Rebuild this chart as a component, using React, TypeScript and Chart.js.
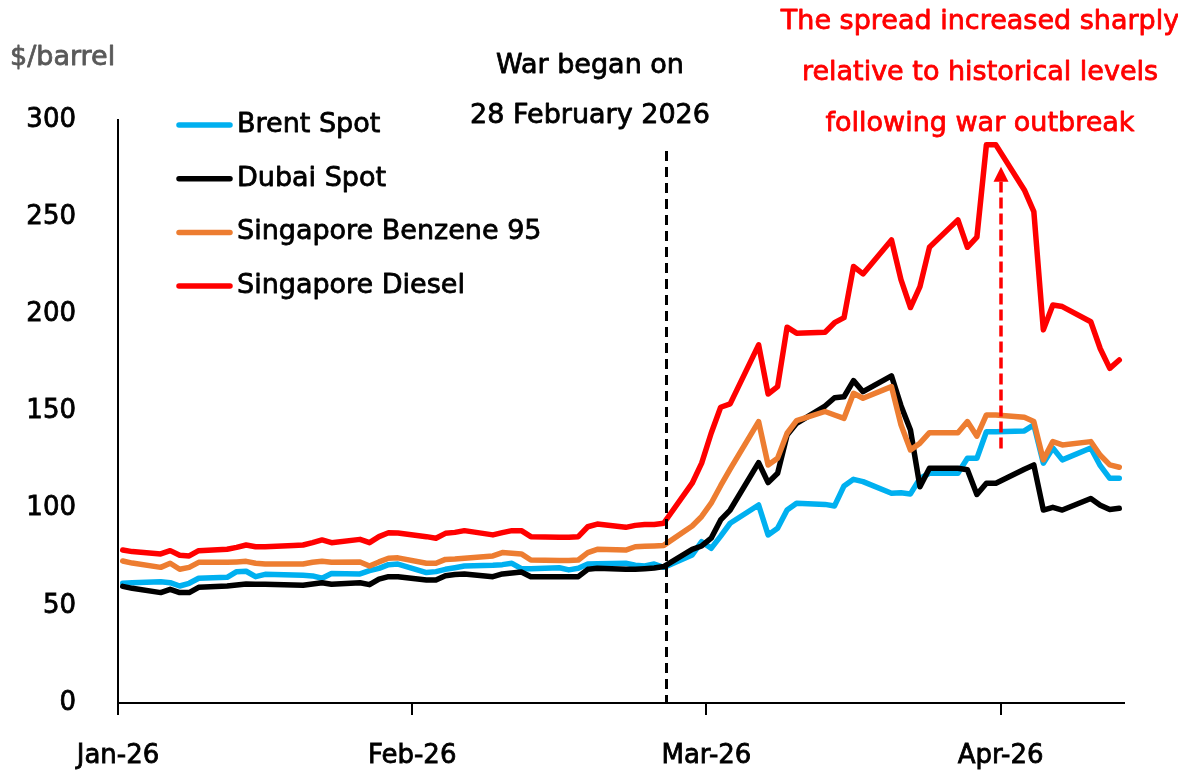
import React, { useEffect, useRef } from "react";
import { Chart, registerables } from "chart.js";

Chart.register(...registerables);

// Trading days, counted in days since 1 January 2026 (weekdays only)
const tradingDays = [
  0, 1, 4, 5, 6, 7, 8, 11, 12, 13, 14, 15, 18, 19, 20, 21, 22, 25, 26, 27, 28, 29,
  32, 33, 34, 35, 36, 39, 40, 41, 42, 43, 46, 47, 48, 49, 50, 53, 54, 55, 56, 57,
  60, 61, 62, 63, 64, 67, 68, 69, 70, 71, 74, 75, 76, 77, 78, 81, 82, 83, 84, 85,
  88, 89, 90, 91, 92, 95, 96, 97, 98, 99, 102, 103, 104, 105,
];

const brentSpot = [
  61.6, 61.9, 62.4, 61.9, 60.2, 61.6, 64.2, 64.7, 67.6, 67.8, 65.0, 66.2, 65.9, 65.7, 65.4, 64.2, 66.6, 66.4, 68.1, 69.3, 71.2, 71.5,
  67.1, 67.6, 68.8, 69.6, 70.5, 70.9, 71.2, 71.9, 69.1, 69.1, 69.6, 68.5, 69.3, 71.5, 71.7, 71.9, 70.9, 70.5, 71.5, 69.8,
  76.2, 83.0, 79.6, 85.9, 92.5, 101.9, 86.5, 89.9, 99.3, 102.8, 102.2, 101.4, 111.7, 115.1, 113.9, 107.9, 108.2, 107.6, 115.6, 118.2,
  118.2, 125.9, 125.9, 139.6, 139.6, 140.0, 143.1, 123.4, 131.2, 125.1, 131.2, 122.1, 115.6, 115.6,
];

const dubaiSpot = [
  60.0, 59.0, 56.8, 58.5, 56.8, 56.8, 59.5, 60.2, 60.7, 61.2, 61.1, 61.1, 60.7, 60.6, 61.2, 61.9, 61.1, 61.9, 60.9, 63.7, 65.0, 65.0,
  63.3, 63.3, 65.5, 66.1, 66.4, 65.0, 66.4, 66.9, 67.4, 65.0, 65.0, 65.0, 65.0, 68.8, 69.3, 68.8, 68.8, 69.1, 69.5, 70.2,
  79.1, 80.8, 84.8, 94.2, 99.3, 123.7, 113.4, 118.2, 137.9, 143.9, 152.8, 157.1, 157.6, 165.9, 160.2, 168.3, 153.0, 140.5, 111.3, 120.8,
  120.8, 120.0, 107.3, 113.1, 113.1, 120.3, 122.5, 99.3, 100.7, 99.3, 105.2, 101.8, 99.6, 100.2,
];

const sgBenzene95 = [
  73.1, 72.0, 69.8, 71.9, 68.8, 69.8, 72.4, 72.4, 72.6, 72.9, 71.9, 71.5, 71.5, 71.5, 72.4, 72.9, 72.4, 72.6, 70.5, 72.6, 74.5, 74.7,
  71.9, 71.9, 73.9, 74.1, 74.5, 75.7, 77.4, 77.0, 76.7, 73.6, 73.3, 73.3, 73.6, 77.4, 79.1, 78.7, 80.4, 80.6, 80.8, 81.1,
  91.1, 96.0, 102.8, 111.8, 120.3, 144.8, 122.5, 126.0, 138.8, 145.3, 150.0, 148.2, 146.5, 159.4, 156.8, 162.8, 143.2, 130.2, 133.7, 139.1,
  139.1, 144.8, 137.3, 148.2, 148.2, 147.0, 144.8, 125.1, 134.5, 132.8, 134.5, 127.5, 122.5, 121.3,
];

const sgDiesel = [
  78.7, 77.9, 76.7, 78.4, 76.0, 75.7, 78.4, 79.1, 80.1, 81.3, 80.4, 80.4, 81.0, 81.3, 82.5, 83.9, 82.5, 84.2, 82.5, 85.6, 87.6, 87.5,
  85.6, 84.8, 87.3, 87.8, 88.7, 86.5, 87.7, 88.7, 88.7, 85.6, 85.3, 85.3, 85.6, 90.7, 92.1, 90.4, 91.4, 91.8, 91.9, 92.5,
  113.1, 123.4, 138.8, 152.2, 153.9, 184.3, 159.0, 162.8, 193.4, 190.3, 190.8, 195.7, 198.3, 224.6, 220.8, 238.3, 217.9, 203.5, 214.3, 234.5,
  248.6, 234.5, 239.7, 287.2, 287.2, 264.0, 252.9, 192.0, 204.8, 204.0, 196.2, 182.3, 172.2, 176.5,
];

const seriesNames = ["Brent Spot", "Dubai Spot", "Singapore Benzene 95", "Singapore Diesel"];
const seriesColors = ["#00B0F0", "#000000", "#ED7D31", "#FF0000"];
const seriesValues = [brentSpot, dubaiSpot, sgBenzene95, sgDiesel];

// x axis: month boundaries (category ticks every 31 days) and their labels
const monthTickDays = [-0.5, 30.5, 61.5, 92.5];
const monthTickLabels = ["Jan-26", "Feb-26", "Mar-26", "Apr-26"];
const xMin = -0.5;
const xMax = 105.5;

const yMin = 0;
const yMax = 300;
const yStep = 50;

const yAxisTitle = "$/barrel";
const warTextLines = ["War began on", "28 February 2026"];
const noteLines = [
  "The spread increased sharply",
  "relative to historical levels",
  "following war outbreak",
];

// annotation anchors, in data units
const warDay = 57.2;
const warLineTopValue = 284;
const arrowDay = 92.5;
const arrowFromValue = 131;
const arrowToValue = 276;

const FONT = '"DejaVu Sans", "Noto Sans", sans-serif';

function strokedText(ctx: CanvasRenderingContext2D, text: string, x: number, y: number, color: string) {
  ctx.fillStyle = color;
  ctx.strokeStyle = color;
  ctx.lineWidth = 0.8;
  ctx.lineJoin = "round";
  ctx.fillText(text, x, y);
  ctx.strokeText(text, x, y);
}

const overlayPlugin = {
  id: "overlay",
  afterDatasetsDraw(chart: any) {
    const { ctx, chartArea } = chart;
    const xs = chart.scales.x;
    const ys = chart.scales.y;
    ctx.save();

    // War start dashed line
    const wx = Math.round(xs.getPixelForValue(warDay)) + 0.5;
    ctx.beginPath();
    ctx.setLineDash([10, 6]);
    ctx.strokeStyle = "#000";
    ctx.lineWidth = 3;
    ctx.moveTo(wx, ys.getPixelForValue(warLineTopValue));
    ctx.lineTo(wx, chartArea.bottom);
    ctx.stroke();

    // Red dashed arrow
    const ax = Math.round(xs.getPixelForValue(arrowDay));
    const ayFrom = ys.getPixelForValue(arrowFromValue);
    const ayTo = ys.getPixelForValue(arrowToValue);
    const headH = 15;
    ctx.beginPath();
    ctx.setLineDash([11, 5]);
    ctx.strokeStyle = "#FF0000";
    ctx.lineWidth = 3.5;
    ctx.moveTo(ax, ayFrom);
    ctx.lineTo(ax, ayTo + headH);
    ctx.stroke();
    ctx.setLineDash([]);
    ctx.beginPath();
    ctx.fillStyle = "#FF0000";
    ctx.moveTo(ax, ayTo);
    ctx.lineTo(ax - 7.5, ayTo + headH);
    ctx.lineTo(ax + 7.5, ayTo + headH);
    ctx.closePath();
    ctx.fill();

    // Texts
    ctx.textBaseline = "alphabetic";
    ctx.font = `27px ${FONT}`;
    ctx.textAlign = "left";
    strokedText(ctx, yAxisTitle, 10, 65, "#595959");

    ctx.textAlign = "center";
    strokedText(ctx, warTextLines[0], 590, 73, "#000");
    strokedText(ctx, warTextLines[1], 590, 123, "#000");

    const noteBase = [29, 80, 131];
    noteLines.forEach((t, i) => strokedText(ctx, t, 980, noteBase[i], "#FF0000"));

    // Legend
    ctx.textAlign = "left";
    seriesNames.forEach((name, i) => {
      const y = 125 + i * 53.7;
      ctx.beginPath();
      ctx.lineCap = "round";
      ctx.strokeStyle = seriesColors[i];
      ctx.lineWidth = 5.5;
      ctx.moveTo(179, y);
      ctx.lineTo(230, y);
      ctx.stroke();
      strokedText(ctx, name, 237, y + 7, "#000");
    });

    ctx.restore();
  },
};

export default function App() {
  const canvasRef = useRef<HTMLCanvasElement | null>(null);

  useEffect(() => {
    if (!canvasRef.current) return;
    const datasets = seriesNames.map((name, i) => ({
      label: name,
      data: tradingDays.map((d, j) => ({ x: d, y: seriesValues[i][j] })),
      borderColor: seriesColors[i],
      backgroundColor: seriesColors[i],
      borderWidth: 5.5,
      pointRadius: 0,
      tension: 0,
      fill: false,
      borderJoinStyle: "round" as const,
      borderCapStyle: "round" as const,
      order: seriesNames.length - 1 - i,
    }));

    const tickFont = { family: FONT, size: 26 };

    const chart = new Chart(canvasRef.current, {
      type: "line",
      data: { datasets },
      options: {
        animation: false,
        responsive: false,
        devicePixelRatio: 1,
        layout: { padding: { left: 0, top: 120, right: 54, bottom: 0 } },
        plugins: {
          legend: { display: false },
          tooltip: { enabled: false },
          title: { display: false },
        },
        scales: {
          x: {
            type: "linear",
            min: xMin,
            max: xMax,
            afterBuildTicks: (scale: any) => {
              scale.ticks = monthTickDays.map((v) => ({ value: v }));
            },
            afterFit: (scale: any) => {
              scale.height = 70;
            },
            ticks: {
              autoSkip: false,
              maxRotation: 0,
              minRotation: 0,
              padding: 26,
              color: "#000",
              textStrokeColor: "#000",
              textStrokeWidth: 0.8,
              font: tickFont,
              callback: (value: any) => {
                const idx = monthTickDays.indexOf(Number(value));
                return idx >= 0 ? monthTickLabels[idx] : "";
              },
            },
            grid: {
              display: true,
              drawOnChartArea: false,
              drawTicks: true,
              tickLength: 12,
              color: "#000",
              lineWidth: 2,
            },
            border: { display: true, color: "#000", width: 2 },
          },
          y: {
            type: "linear",
            min: yMin,
            max: yMax,
            afterFit: (scale: any) => {
              scale.width = 118;
            },
            ticks: {
              stepSize: yStep,
              padding: 42,
              color: "#000",
              textStrokeColor: "#000",
              textStrokeWidth: 0.8,
              font: tickFont,
            },
            grid: { display: false, drawTicks: false },
            border: { display: true, color: "#000", width: 2 },
          },
        },
      },
      plugins: [overlayPlugin],
    });
    return () => chart.destroy();
  }, []);

  return (
    <div style={{ position: "absolute", left: 0, top: 0, width: 1178, height: 773, background: "#fff" }}>
      <canvas ref={canvasRef} width={1178} height={773} />
    </div>
  );
}
